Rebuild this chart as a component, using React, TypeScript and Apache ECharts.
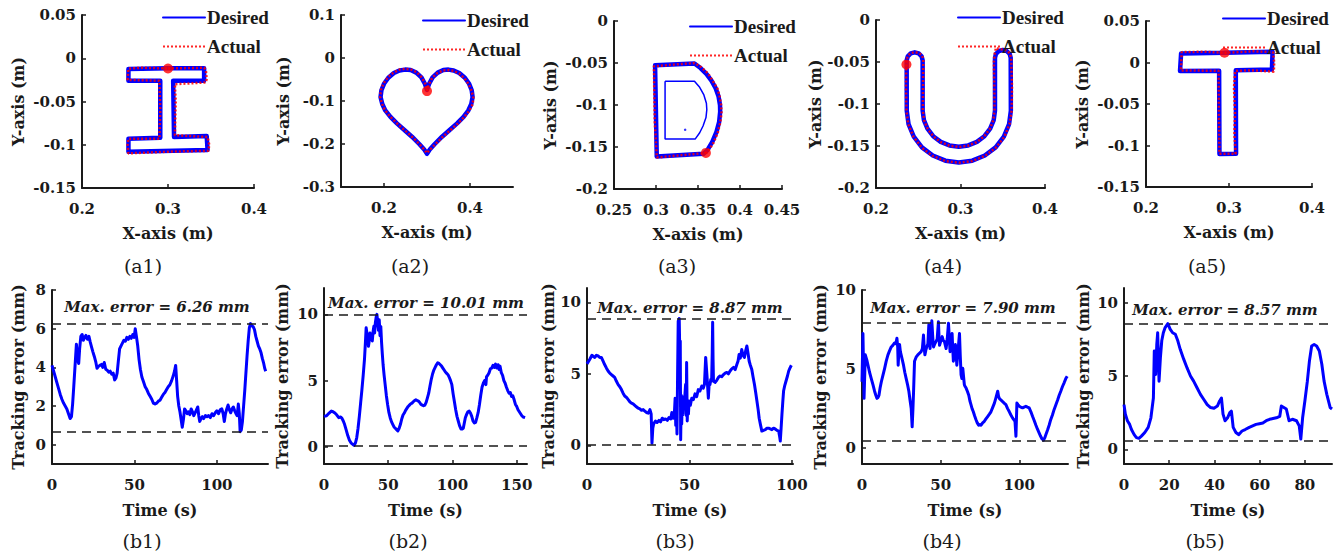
import React, { useEffect, useRef } from 'react';
import * as echarts from 'echarts';

// ---------- data: top row trajectories ([x, y] in m) ----------
const a1Desired = [[0.300,-0.0115],[0.342,-0.0115],[0.342,-0.026],[0.306,-0.026],[0.307,-0.091],[0.345,-0.090],[0.346,-0.106],[0.254,-0.108],[0.254,-0.093],[0.291,-0.092],[0.291,-0.026],[0.254,-0.026],[0.254,-0.0125],[0.300,-0.0115]];
const a1Actual = [[0.300,-0.0118],[0.342,-0.0110],[0.344,-0.0135],[0.345,-0.024],[0.344,-0.028],[0.308,-0.030],[0.309,-0.050],[0.308,-0.089],[0.346,-0.091],[0.348,-0.100],[0.347,-0.107],[0.300,-0.108],[0.254,-0.110],[0.253,-0.100],[0.254,-0.093],[0.290,-0.093],[0.291,-0.060],[0.290,-0.026],[0.253,-0.025],[0.254,-0.012],[0.270,-0.011],[0.300,-0.0118]];
const a1Start = [[0.300,-0.0118]];

const a2Desired = [[0.300,-0.074],[0.305,-0.060],[0.313,-0.045],[0.325,-0.034],[0.338,-0.028],[0.350,-0.027],[0.362,-0.029],[0.375,-0.035],[0.388,-0.046],[0.398,-0.060],[0.404,-0.075],[0.406,-0.091],[0.403,-0.107],[0.396,-0.122],[0.385,-0.137],[0.370,-0.152],[0.352,-0.168],[0.335,-0.183],[0.318,-0.200],[0.307,-0.212],[0.300,-0.223],[0.293,-0.212],[0.282,-0.200],[0.265,-0.183],[0.248,-0.168],[0.230,-0.152],[0.215,-0.137],[0.203,-0.122],[0.196,-0.107],[0.192,-0.091],[0.194,-0.075],[0.200,-0.060],[0.210,-0.046],[0.223,-0.035],[0.236,-0.029],[0.249,-0.027],[0.262,-0.028],[0.275,-0.034],[0.287,-0.045],[0.295,-0.060],[0.300,-0.074]];
const a2Actual = [[0.300,-0.077],[0.304,-0.062],[0.312,-0.046],[0.324,-0.035],[0.338,-0.029],[0.350,-0.028],[0.362,-0.030],[0.375,-0.036],[0.387,-0.047],[0.397,-0.061],[0.404,-0.077],[0.408,-0.093],[0.406,-0.108],[0.398,-0.123],[0.386,-0.138],[0.371,-0.153],[0.353,-0.169],[0.336,-0.184],[0.319,-0.201],[0.307,-0.213],[0.300,-0.221],[0.292,-0.211],[0.281,-0.199],[0.264,-0.182],[0.247,-0.167],[0.229,-0.151],[0.214,-0.136],[0.202,-0.121],[0.195,-0.106],[0.191,-0.090],[0.193,-0.074],[0.199,-0.059],[0.209,-0.045],[0.222,-0.034],[0.236,-0.027],[0.250,-0.025],[0.263,-0.027],[0.276,-0.033],[0.288,-0.045],[0.296,-0.060],[0.300,-0.074]];
const a2Start = [[0.300,-0.077]];

const a3Desired = [[0.3566,-0.1580],[0.3009,-0.1614],[0.2989,-0.0527],[0.3458,-0.0506],[0.3530,-0.0560],[0.3600,-0.0630],[0.3660,-0.0710],[0.3710,-0.0800],[0.3745,-0.0900],[0.3762,-0.1000],[0.3764,-0.1080],[0.3752,-0.1200],[0.3720,-0.1320],[0.3670,-0.1440],[0.3610,-0.1540],[0.3566,-0.1580]];
const a3DesiredInner = [[0.3108,-0.0717],[0.3458,-0.0717],[0.3520,-0.0790],[0.3570,-0.0880],[0.3600,-0.0980],[0.3605,-0.1056],[0.3595,-0.1150],[0.3560,-0.1250],[0.3520,-0.1330],[0.3466,-0.1406],[0.3108,-0.1406],[0.3108,-0.0717]];
const a3InnerDot = [[0.3347,-0.1295]];
const a3Actual = [[0.3600,-0.1570],[0.3010,-0.1625],[0.2985,-0.1200],[0.2975,-0.0540],[0.3200,-0.0520],[0.3460,-0.0500],[0.3540,-0.0550],[0.3620,-0.0625],[0.3680,-0.0720],[0.3735,-0.0810],[0.3760,-0.0910],[0.3775,-0.1000],[0.3780,-0.1100],[0.3765,-0.1210],[0.3735,-0.1330],[0.3685,-0.1450],[0.3620,-0.1550],[0.3600,-0.1570]];
const a3Start = [[0.3594,-0.1570]];

const a4Desired = [[0.2363,-0.053],[0.2364,-0.108],[0.2385,-0.1239],[0.2447,-0.1388],[0.2544,-0.1516],[0.2672,-0.1613],[0.2821,-0.1675],[0.2980,-0.1696],[0.3139,-0.1675],[0.3288,-0.1613],[0.3416,-0.1516],[0.3513,-0.1388],[0.3575,-0.1239],[0.3596,-0.108],[0.3594,-0.045],[0.3582,-0.0403],[0.3547,-0.0369],[0.3501,-0.0357],[0.3455,-0.0369],[0.3420,-0.0403],[0.3408,-0.045],[0.3408,-0.108],[0.3393,-0.1191],[0.3351,-0.1294],[0.3283,-0.1383],[0.3194,-0.1451],[0.3091,-0.1493],[0.2980,-0.1508],[0.2869,-0.1493],[0.2766,-0.1451],[0.2677,-0.1383],[0.2609,-0.1294],[0.2567,-0.1191],[0.2552,-0.108],[0.2552,-0.048],[0.2540,-0.0433],[0.2505,-0.0398],[0.2458,-0.0385],[0.2411,-0.0398],[0.2376,-0.0433],[0.2363,-0.048],[0.2363,-0.053]];
const a4Actual = [[0.2358,-0.053],[0.2355,-0.080],[0.2360,-0.108],[0.2382,-0.1242],[0.2445,-0.1392],[0.2542,-0.1520],[0.2670,-0.1618],[0.2820,-0.1680],[0.2980,-0.1700],[0.3140,-0.1679],[0.3290,-0.1617],[0.3420,-0.1518],[0.3520,-0.1390],[0.3580,-0.1240],[0.3605,-0.108],[0.3610,-0.080],[0.3600,-0.046],[0.3585,-0.040],[0.3550,-0.0365],[0.3500,-0.0350],[0.3450,-0.0345],[0.3420,-0.0330],[0.3405,-0.040],[0.3395,-0.050],[0.3400,-0.080],[0.3402,-0.108],[0.3388,-0.1195],[0.3346,-0.1298],[0.3278,-0.1387],[0.3190,-0.1455],[0.3088,-0.1497],[0.2980,-0.1512],[0.2870,-0.1497],[0.2768,-0.1455],[0.2680,-0.1387],[0.2612,-0.1298],[0.2570,-0.1195],[0.2555,-0.108],[0.2558,-0.070],[0.2560,-0.047],[0.2545,-0.0420],[0.2505,-0.0392],[0.2458,-0.0382],[0.2410,-0.0395],[0.2375,-0.0430],[0.2360,-0.048],[0.2358,-0.053]];
const a4Start = [[0.2360,-0.053]];

const a5Desired = [[0.2946,0.0117],[0.3525,0.0129],[0.3517,-0.0085],[0.3082,-0.0092],[0.3085,-0.1098],[0.2885,-0.1103],[0.2881,-0.0098],[0.2410,-0.0101],[0.2423,0.0109],[0.2946,0.0117]];
const a5Actual = [[0.2946,0.0117],[0.3300,0.0135],[0.3530,0.0125],[0.3545,0.000],[0.3540,-0.0110],[0.3300,-0.0095],[0.3075,-0.0100],[0.3060,-0.0300],[0.3072,-0.0600],[0.3065,-0.0870],[0.3080,-0.1100],[0.2885,-0.1100],[0.2878,-0.0600],[0.2875,-0.0100],[0.2420,-0.0095],[0.2430,0.0125],[0.2700,0.0130],[0.2946,0.0117]];
const a5Start = [[0.2946,0.0117]];

// ---------- data: bottom row tracking errors ([t s, error mm]) ----------
const b1Error = [[0,4.1],[1,3.8],[2,3.5],[3,3.2],[4,2.9],[5,2.6],[6,2.35],[7,2.15],[8,2.0],[9,1.85],[10,1.6],[11,1.35],[11.8,1.45],[12.5,2.1],[13.2,3.0],[14,4.1],[14.8,5.2],[15.5,4.4],[16.2,4.2],[16.8,5.0],[17.5,5.6],[18.3,5.7],[19,5.4],[19.8,5.55],[20.6,5.65],[21.5,5.45],[22.4,5.6],[23.2,5.3],[24,5.05],[24.8,4.8],[25.7,4.55],[26.5,4.3],[27.3,3.95],[28.2,4.05],[29,4.1],[30,4.15],[30.8,4.0],[31.7,4.25],[32.6,3.9],[33.5,3.85],[34.4,3.75],[35.3,3.8],[36.2,3.65],[37.1,3.7],[38,3.35],[38.8,3.45],[39.5,3.7],[40.2,4.3],[41,4.95],[41.8,5.1],[42.7,5.25],[43.6,5.4],[44.5,5.35],[45.4,5.55],[46.3,5.45],[47.2,5.6],[48.1,5.5],[49,5.7],[49.8,5.55],[50.5,6.0],[51.2,5.6],[52,5.1],[52.8,4.4],[53.6,3.9],[54.5,3.5],[55.5,3.25],[56.5,3.0],[57.5,2.85],[58.5,2.65],[59.5,2.5],[60.5,2.35],[61.5,2.15],[62.5,2.1],[63.5,2.15],[64.5,2.25],[65.5,2.3],[66.5,2.45],[67.5,2.6],[68.5,2.7],[69.5,2.85],[70.5,3.0],[71.5,3.1],[72.5,3.3],[73.5,3.55],[74.3,3.8],[75,4.1],[75.6,3.3],[76.2,2.5],[76.9,2.0],[77.6,1.7],[78.3,1.3],[79,0.9],[79.7,1.3],[80.4,1.85],[81.2,1.75],[82,1.6],[82.8,1.7],[83.6,1.55],[84.4,1.85],[85.2,1.7],[86,1.5],[86.8,1.65],[87.6,1.8],[88.4,1.95],[89,1.5],[89.6,1.2],[90.4,1.35],[91.2,1.45],[92,1.35],[93,1.5],[94,1.45],[95,1.5],[96,1.4],[97,1.6],[98,1.5],[99,1.65],[100,1.75],[101,1.6],[102,1.8],[103,1.85],[103.8,1.6],[104.5,1.2],[105.2,1.6],[106,1.85],[106.8,2.05],[107.6,1.8],[108.4,1.65],[109.2,1.85],[110,1.95],[110.8,1.75],[111.6,1.6],[112.3,1.5],[113,2.1],[113.6,1.6],[114.1,0.67],[114.8,0.75],[115.5,1.2],[116.2,2.0],[116.9,2.8],[117.6,3.7],[118.3,4.6],[119,5.4],[119.7,6.05],[120.4,6.26],[121.2,6.15],[122,6.1],[122.8,5.95],[123.6,5.6],[124.4,5.35],[125.2,5.1],[126,4.95],[126.8,4.75],[127.6,4.45],[128.4,4.2],[129,3.95],[129.6,3.8]];
const b2Error = [[0,2.3],[2,2.35],[4,2.55],[5.7,2.7],[7,2.65],[8.5,2.55],[10,2.4],[11.5,2.2],[13,2.25],[14,2.15],[15,1.95],[16,1.7],[17.2,1.3],[18.5,0.85],[19.8,0.5],[21,0.3],[22.2,0.2],[23.4,0.1],[24.5,0.3],[25.5,0.7],[26.5,1.4],[27.5,2.3],[28.5,3.3],[29.5,4.3],[30.5,5.4],[31.5,6.6],[32.3,8.0],[32.8,9.0],[33.4,8.6],[34,8.1],[34.6,7.6],[35.2,8.0],[35.8,8.6],[36.4,8.3],[37,8.5],[37.6,8.0],[38.2,8.7],[38.8,9.1],[39.4,8.6],[40,9.4],[40.6,9.8],[41.2,10.01],[41.8,9.4],[42.4,8.8],[43,9.6],[43.6,8.4],[44.2,9.1],[44.8,7.9],[45.4,7.0],[46,6.2],[46.8,5.4],[47.6,4.7],[48.5,3.9],[49.5,3.2],[50.5,2.6],[51.5,2.2],[52.5,1.9],[53.5,1.7],[54.5,1.5],[55.5,1.4],[56.5,1.3],[57.5,1.2],[58.5,1.4],[59.5,1.7],[60.5,2.1],[61.5,2.4],[62.5,2.55],[63.5,2.75],[64.5,2.9],[65.5,3.05],[66.5,3.15],[67.5,3.25],[68.5,3.3],[69.5,3.4],[70.5,3.5],[71.5,3.55],[72.5,3.5],[73.5,3.45],[74.5,3.35],[75.5,3.2],[76.5,3.15],[77.5,3.1],[78.5,3.15],[79.5,3.35],[80.5,3.7],[81.5,4.05],[82.5,4.6],[83.5,5.1],[84.5,5.5],[85.5,5.8],[86.5,6.0],[87.5,6.2],[88.5,6.35],[89.5,6.3],[90.5,6.2],[91.5,6.1],[92.5,5.95],[93.5,5.8],[94.5,5.65],[95.5,5.55],[96.5,5.45],[97.5,5.25],[98.5,5.0],[99.5,4.7],[100.5,4.0],[101.5,3.4],[102.5,2.8],[103.5,2.3],[104.5,1.95],[105.5,1.6],[106.6,1.35],[107.6,1.35],[108.4,1.4],[109.2,1.8],[110,2.2],[111,2.45],[112,2.65],[113,2.7],[114,2.55],[115,2.3],[116,1.95],[117,1.8],[118,1.85],[119,2.2],[120,2.6],[121,3.2],[122,3.9],[123,4.5],[124,4.8],[125,5.0],[126,4.7],[126.5,5.3],[127.4,5.4],[128.5,5.6],[129.5,5.9],[130.5,5.95],[131.5,6.15],[132.5,6.0],[133.5,6.25],[134.5,5.95],[135.5,6.2],[136.3,5.85],[137,6.1],[138,5.6],[139,5.4],[140,5.0],[141,4.8],[142,4.5],[143,4.25],[144,4.05],[145,4.1],[146,3.8],[147,3.85],[148,3.55],[149,3.2],[150,3.05],[151,2.8],[152,2.65],[153,2.5],[154,2.35],[155,2.25],[156.5,2.2]];
const b3Error = [[0,5.7],[1.3,6.0],[2.4,6.3],[3.2,6.2],[3.8,6.15],[4.6,6.3],[5.4,6.25],[6.2,6.15],[7,6.15],[7.8,5.9],[8.6,5.65],[9.5,5.4],[10.3,5.2],[11.1,5.05],[11.9,4.95],[12.7,4.85],[13.5,4.75],[14.3,4.5],[15.2,4.25],[16,4.1],[16.8,3.9],[17.6,3.65],[18.4,3.45],[19.3,3.35],[20.1,3.2],[20.9,3.05],[21.7,2.95],[22.5,2.9],[23.3,2.8],[24.1,2.7],[25,2.6],[25.8,2.55],[26.6,2.45],[27.4,2.5],[28.2,2.4],[29,2.3],[29.9,2.25],[30.7,2.5],[31.3,2.2],[31.7,0.15],[32.1,1.2],[32.5,1.5],[33.4,1.7],[34.2,1.6],[35.1,1.75],[35.9,1.65],[36.7,1.9],[37.5,1.8],[38.3,1.85],[39.2,1.75],[40,1.95],[40.8,1.85],[41.4,2.3],[42,1.9],[42.6,2.15],[43,3.3],[43.3,1.4],[43.6,2.9],[43.9,0.8],[44.2,4.95],[44.5,8.7],[44.8,7.2],[45,8.87],[45.3,6.1],[45.5,7.3],[45.7,0.4],[46,3.5],[46.2,1.5],[46.5,3.2],[46.8,2.15],[47.1,3.4],[47.5,2.6],[47.8,3.6],[48.1,4.25],[48.4,2.1],[48.6,5.8],[48.9,1.7],[49.2,3.0],[49.5,2.2],[49.8,3.1],[50.4,2.8],[51.1,3.3],[51.9,3.2],[52.7,3.6],[53.5,3.4],[54.3,3.9],[55.1,3.8],[56,4.15],[56.7,4.0],[57.3,4.25],[57.9,6.15],[58.5,4.95],[59.2,3.3],[59.6,4.3],[60,4.25],[60.4,4.6],[60.8,4.5],[61.1,6.5],[61.3,8.6],[61.5,6.0],[61.7,4.5],[62.5,4.4],[63.3,4.55],[64.1,4.75],[64.9,4.85],[65.7,4.8],[66.6,4.95],[67.4,5.05],[68.2,5.1],[69,5.0],[69.8,5.2],[70.6,5.35],[71.5,5.45],[72.3,5.3],[73.1,5.65],[73.7,5.9],[74.2,6.35],[74.8,6.1],[75.5,6.7],[76.1,6.3],[76.8,6.15],[77.4,6.6],[78,6.95],[78.6,6.4],[79.1,5.9],[79.7,5.6],[80.4,5.3],[81,4.8],[81.7,4.25],[82.3,3.7],[82.9,3.1],[83.5,2.5],[84,1.9],[84.7,1.4],[85.3,1.0],[86.1,1.05],[87,1.1],[87.8,1.2],[88.6,1.2],[89.4,1.15],[90.2,1.1],[91,1.2],[91.8,1.15],[92.7,1.05],[93.5,1.0],[94,0.6],[94.3,0.3],[94.7,1.2],[95.1,2.15],[95.5,3.0],[95.9,3.8],[96.5,4.2],[97.1,4.5],[97.8,4.85],[98.4,5.2],[99,5.4],[99.7,5.6]];
const b4Error = [[0,4.2],[0.6,7.25],[1.3,3.15],[2.1,5.9],[3,5.6],[3.8,5.25],[4.8,4.8],[5.9,4.4],[7,4.0],[8,3.6],[8.8,3.35],[9.5,3.15],[10.2,3.2],[10.8,3.35],[11.5,3.8],[12.3,4.2],[13.3,4.6],[14.4,5.05],[15.4,5.5],[16.5,5.9],[17.5,6.15],[18.6,6.4],[19.6,6.5],[20.7,6.65],[21.5,6.6],[22.2,6.95],[22.7,6.4],[23,5.25],[23.5,6.2],[23.9,6.55],[24.4,6.1],[24.9,5.9],[25.6,5.6],[26.4,5.25],[27.2,4.8],[28.1,4.4],[29,4.0],[29.8,3.6],[30.6,3.0],[31.3,2.5],[31.9,1.35],[32.4,2.5],[32.8,3.6],[33.4,5.5],[34.4,5.75],[35.5,5.9],[36.5,6.0],[37.6,6.1],[38.4,6.3],[39.1,7.15],[39.6,6.3],[40,5.9],[40.6,6.2],[41.2,6.4],[41.9,6.6],[42.5,7.8],[42.9,6.8],[43.3,6.3],[43.8,7.2],[44.4,8.05],[45,7.0],[45.5,6.4],[46.3,6.6],[47.1,6.75],[47.8,6.9],[48.6,8.0],[49,7.0],[49.3,6.5],[50.2,6.8],[51,7.05],[51.7,6.8],[52.4,6.75],[53,6.5],[53.5,6.3],[54.2,6.9],[55,7.9],[55.5,7.0],[56,6.1],[56.6,6.7],[57.3,7.25],[57.7,6.3],[58.1,5.5],[58.7,6.0],[59.4,6.55],[59.9,5.9],[60.3,5.25],[61.1,6.2],[62,7.25],[62.5,5.8],[63,4.65],[63.5,4.4],[64.1,5.05],[64.6,4.5],[65.1,4.0],[65.6,3.9],[66.2,3.8],[67,3.6],[67.9,3.35],[68.6,3.0],[69.3,2.75],[70,2.5],[70.8,2.3],[71.6,2.05],[72.5,1.8],[73.3,1.6],[74.2,1.45],[75,1.5],[75.7,1.45],[76.7,1.6],[77.8,1.7],[78.8,1.85],[79.9,2.0],[81,2.15],[82,2.3],[83,2.55],[84.2,2.85],[85.2,3.2],[86.3,3.6],[86.8,3.3],[87.3,3.15],[88.3,3.05],[89.4,2.95],[90.4,2.85],[91.5,2.75],[92.6,2.5],[93.7,2.3],[94.7,2.1],[95.8,1.9],[96.6,1.8],[97.3,1.7],[97.9,0.75],[98.2,1.8],[98.5,2.85],[99.2,2.75],[100,2.65],[101,2.6],[102.1,2.55],[103.1,2.6],[104.2,2.65],[105.2,2.6],[106.3,2.55],[107.4,2.3],[108.5,2.0],[109.5,1.75],[110.6,1.45],[111.6,1.2],[112.7,0.95],[113.6,0.75],[114.4,0.6],[115.4,0.5],[116.2,0.65],[116.9,0.85],[118,1.15],[119,1.45],[120,1.8],[121.1,2.1],[122.2,2.45],[123.3,2.75],[124.4,3.05],[125.4,3.35],[126.4,3.6],[127.5,3.9],[128.6,4.15],[129.6,4.4],[130.5,4.55]];
const b5Error = [[0,3.05],[0.6,2.4],[1.5,1.95],[2.5,1.7],[3.3,1.35],[4.5,1.0],[5.5,0.8],[6.6,0.75],[7.7,0.9],[9.2,1.15],[10.7,1.5],[11.9,2.15],[13,3.5],[13.4,6.7],[14,5.1],[14.5,7.15],[14.9,7.95],[15.5,4.65],[16.1,6.25],[16.7,7.4],[17.4,7.95],[18.2,8.3],[19.4,8.57],[20.4,8.2],[21.5,7.95],[22.7,7.85],[23.8,7.4],[24.9,6.8],[26.4,6.15],[27.9,5.55],[29.4,5.0],[30.8,4.65],[32.3,4.2],[33.8,3.75],[35.3,3.4],[36.8,3.05],[38.3,2.85],[39.8,2.8],[41.3,2.95],[42.3,3.3],[43.1,3.5],[43.8,2.4],[44.7,1.95],[45.8,2.15],[46.8,2.5],[47.5,2.6],[48.3,1.5],[49.5,1.15],[50.7,1.0],[52.2,1.25],[53.6,1.35],[55.4,1.5],[56.9,1.6],[58.4,1.7],[59.9,1.75],[61.4,1.8],[62.9,1.95],[64.4,2.05],[65.9,2.1],[67.4,2.15],[68.9,2.25],[69.6,2.95],[70.7,2.85],[71.8,2.75],[73,1.95],[74.5,2.05],[76.3,1.95],[77.5,1.6],[78.2,0.7],[79,2.15],[80,3.3],[81.1,4.65],[82,6.0],[83,7.05],[84.1,7.15],[85.2,7.05],[86.4,6.7],[87.5,5.8],[88.5,4.65],[89.7,3.75],[91.2,2.85],[92,2.75]];

// max / min error reference levels (mm)
const b1Levels = [6.26, 0.67];
const b2Levels = [10.01, 0.1];
const b3Levels = [8.87, 0.02];
const b4Levels = [7.90, 0.5];
const b5Levels = [8.57, 0.6];
const maxLabels = ['Max. error = 6.26 mm', 'Max. error = 10.01 mm', 'Max. error = 8.87 mm', 'Max. error = 7.90 mm', 'Max. error = 8.57 mm'];

// tick values
const a1XTicks = [0.2, 0.3, 0.4];
const a1YTicks = [-0.15, -0.1, -0.05, 0, 0.05];
const a2XTicks = [0.2, 0.4];
const a2YTicks = [-0.3, -0.2, -0.1, 0, 0.1];
const a3XTicks = [0.25, 0.3, 0.35, 0.4, 0.45];
const a3YTicks = [-0.2, -0.15, -0.1, -0.05, 0];
const a4XTicks = [0.2, 0.3, 0.4];
const a4YTicks = [-0.2, -0.15, -0.1, -0.05, 0];
const a5XTicks = [0.2, 0.3, 0.4];
const a5YTicks = [-0.15, -0.1, -0.05, 0, 0.05];
const b1XTicks = [0, 50, 100];
const b1YTicks = [0, 2, 4, 6, 8];
const b2XTicks = [0, 50, 100, 150];
const b2YTicks = [0, 5, 10];
const b3XTicks = [0, 50, 100];
const b3YTicks = [0, 5, 10];
const b4XTicks = [0, 50, 100];
const b4YTicks = [0, 5, 10];
const b5XTicks = [0, 20, 40, 60, 80];
const b5YTicks = [0, 5, 10];

const topCaptions = ['(a1)', '(a2)', '(a3)', '(a4)', '(a5)'];
const bottomCaptions = ['(b1)', '(b2)', '(b3)', '(b4)', '(b5)'];

// ---------- layout ----------
const topPanels = [
  { desired: a1Desired, actual: a1Actual, start: a1Start, xr: [0.2, 0.4], yr: [-0.15, 0.05], xt: a1XTicks, yt: a1YTicks, g: [82, 15, 172, 173], ng: 56, lg: [162, 8], cx: 143 },
  { desired: a2Desired, actual: a2Actual, start: a2Start, xr: [0.1, 0.5], yr: [-0.3, 0.1], xt: a2XTicks, yt: a2YTicks, g: [341, 15, 172, 172], ng: 50, lg: [422, 11], cx: 410 },
  { desired: a3Desired, actual: a3Actual, start: a3Start, xr: [0.25, 0.45], yr: [-0.2, 0], xt: a3XTicks, yt: a3YTicks, g: [614, 21, 168, 168], ng: 56, lg: [689, 17], cx: 677 },
  { desired: a4Desired, actual: a4Actual, start: a4Start, xr: [0.2, 0.4], yr: [-0.2, 0], xt: a4XTicks, yt: a4YTicks, g: [876, 20, 169, 168], ng: 53, lg: [957, 8], cx: 943 },
  { desired: a5Desired, actual: a5Actual, start: a5Start, xr: [0.2, 0.4], yr: [-0.15, 0.05], xt: a5XTicks, yt: a5YTicks, g: [1146, 21, 166, 166], ng: 56, lg: [1222, 9], cx: 1207 },
];
const bottomPanels = [
  { data: b1Error, lv: b1Levels, xr: [0, 131], yr: [-1, 8], xt: b1XTicks, yt: b1YTicks, g: [52, 290, 216, 174], ng: 26, tx: 157, ty: 307, cx: 142 },
  { data: b2Error, lv: b2Levels, xr: [0, 158], yr: [-1.3, 12], xt: b2XTicks, yt: b2YTicks, g: [324, 288, 203, 176], ng: 34, tx: 426, ty: 303, cx: 408 },
  { data: b3Error, lv: b3Levels, xr: [0, 100.5], yr: [-1.3, 11], xt: b3XTicks, yt: b3YTicks, g: [587, 288, 206, 176], ng: 31, tx: 690, ty: 308, cx: 675 },
  { data: b4Error, lv: b4Levels, xr: [0, 131], yr: [-1, 10], xt: b4XTicks, yt: b4YTicks, g: [862, 290, 206, 174], ng: 34, tx: 963, ty: 308, cx: 942 },
  { data: b5Error, lv: b5Levels, xr: [0, 92], yr: [-1, 11], xt: b5XTicks, yt: b5YTicks, g: [1124, 288, 208, 176], ng: 33, tx: 1225, ty: 310, cx: 1205 },
];

const SERIF = '"DejaVu Serif", serif';
const INK = '#1a1a1a';
const BLUE = '#0000ff';
const RED = '#ff0000';

const fmt = (v: number) => String(parseFloat(Number(v).toFixed(4)));

function makeAxis(gridIndex: number, range: number[], ticks: number[], name: string, nameGap: number, isY: boolean, labelMargin: number) {
  return {
    type: 'value',
    gridIndex,
    min: range[0],
    max: range[1],
    name,
    nameLocation: 'middle',
    nameGap,
    nameTextStyle: { fontFamily: SERIF, fontWeight: 'bold', fontSize: 16, color: INK },
    axisLine: { show: true, onZero: false, lineStyle: { color: INK, width: 2 } },
    axisTick: { show: true, inside: true, length: 4, customValues: ticks, lineStyle: { color: INK, width: 1.5 } },
    axisLabel: { show: true, customValues: ticks, formatter: fmt, fontFamily: SERIF, fontWeight: 'bold', fontSize: 15, color: INK, margin: labelMargin },
    splitLine: { show: false },
  };
}

export default function App() {
  const ref = useRef<HTMLDivElement>(null);
  useEffect(() => {
    if (!ref.current) return;
    const chart = echarts.init(ref.current, undefined, { renderer: 'svg' });
    const grids: any[] = [];
    const xAxes: any[] = [];
    const yAxes: any[] = [];
    const series: any[] = [];
    const legends: any[] = [];
    const graphics: any[] = [];

    topPanels.forEach((p, i) => {
      grids.push({ left: p.g[0], top: p.g[1], width: p.g[2], height: p.g[3] });
      xAxes.push(makeAxis(i, p.xr, p.xt, 'X-axis (m)', 37, false, 13));
      yAxes.push(makeAxis(i, p.yr, p.yt, 'Y-axis (m)', p.ng, true, 6));
      series.push({
        type: 'line', name: 'Desired', xAxisIndex: i, yAxisIndex: i, data: p.desired,
        symbol: 'none', showSymbol: false, z: 2,
        lineStyle: { color: BLUE, width: 4.5, cap: 'round', join: 'round' }, itemStyle: { color: BLUE },
      });
      series.push({
        type: 'line', name: 'Actual', xAxisIndex: i, yAxisIndex: i, data: p.actual,
        symbol: 'none', showSymbol: false, z: 3,
        lineStyle: { color: RED, width: 2.5, type: [2, 2], opacity: 0.85 }, itemStyle: { color: RED },
      });
      series.push({
        type: 'scatter', name: 'start', xAxisIndex: i, yAxisIndex: i, data: p.start,
        symbolSize: 10, z: 4, itemStyle: { color: RED }, silent: true,
      });
      legends.push({
        left: p.lg[0], top: p.lg[1], orient: 'vertical', itemWidth: 42, itemHeight: 14, itemGap: 10,
        data: ['Desired', 'Actual'], padding: 0,
        itemStyle: { opacity: 0 },
        textStyle: { fontFamily: '"Liberation Serif", serif', fontWeight: 'bold', fontSize: 19, color: INK, padding: [0, 0, 0, -3] },
      });
      graphics.push({ type: 'text', x: p.cx, y: 266, style: { text: topCaptions[i], font: '19px "DejaVu Serif", serif', fill: INK, textAlign: 'center', textVerticalAlign: 'middle' } });
    });
    // thin inner contour of the D and its dot
    series.push({
      type: 'line', name: 'DesiredInner', xAxisIndex: 2, yAxisIndex: 2, data: a3DesiredInner,
      symbol: 'none', showSymbol: false, z: 2, lineStyle: { color: BLUE, width: 1.5 },
    });
    series.push({
      type: 'scatter', name: 'innerDot', xAxisIndex: 2, yAxisIndex: 2, data: a3InnerDot,
      symbolSize: 2.5, itemStyle: { color: BLUE }, silent: true,
    });

    bottomPanels.forEach((p, j) => {
      const i = j + 5;
      grids.push({ left: p.g[0], top: p.g[1], width: p.g[2], height: p.g[3] });
      xAxes.push(makeAxis(i, p.xr, p.xt, 'Time (s)', 38, false, 13));
      yAxes.push(makeAxis(i, p.yr, p.yt, 'Tracking error (mm)', p.ng, true, 6));
      series.push({
        type: 'line', name: 'error' + j, xAxisIndex: i, yAxisIndex: i, data: p.data,
        symbol: 'none', showSymbol: false, z: 3,
        lineStyle: { color: BLUE, width: 3, join: 'round' },
        markLine: {
          silent: true, symbol: ['none', 'none'], label: { show: false },
          lineStyle: { color: INK, width: 1.5, type: [9, 6] },
          data: p.lv.map((v) => ({ yAxis: v })),
        },
      });
      graphics.push({ type: 'text', x: p.tx, y: p.ty, style: { text: maxLabels[j], font: 'italic bold 15px "DejaVu Serif", serif', fill: INK, textAlign: 'center', textVerticalAlign: 'middle' } });
      graphics.push({ type: 'text', x: p.cx, y: 541, style: { text: bottomCaptions[j], font: '19px "DejaVu Serif", serif', fill: INK, textAlign: 'center', textVerticalAlign: 'middle' } });
    });

    chart.setOption({
      animation: false,
      backgroundColor: '#ffffff',
      grid: grids,
      xAxis: xAxes,
      yAxis: yAxes,
      legend: legends,
      series,
      graphic: graphics,
    });
    return () => chart.dispose();
  }, []);
  return <div ref={ref} style={{ position: 'absolute', left: 0, top: 0, width: 1335, height: 557 }} />;
}
